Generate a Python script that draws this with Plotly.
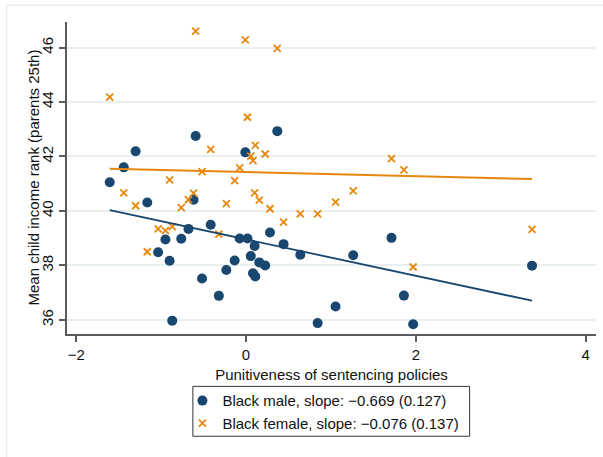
import plotly.graph_objects as go

# Sentencing punitiveness index (shared by both groups), one value per state
punitiveness = [-1.605, -1.44, -1.30, -1.163, -1.035, -0.949, -0.90, -0.869, -0.763,
                -0.678, -0.618, -0.593, -0.518, -0.416, -0.32, -0.232, -0.134, -0.075,
                -0.008, 0.017, 0.056, 0.082, 0.101, 0.109, 0.156, 0.225, 0.282, 0.368,
                0.442, 0.639, 0.843, 1.054, 1.262, 1.713, 1.859, 1.968, 3.368]

# Mean child income rank, parents at 25th percentile
rank_black_male = [41.05, 41.6, 42.19, 40.31, 38.48, 38.95, 38.17, 35.97, 38.98,
                   39.34, 40.41, 42.75, 37.52, 39.49, 36.88, 37.83, 38.18, 38.99,
                   42.15, 38.99, 38.34, 37.71, 38.71, 37.59, 38.11, 38.0, 39.21, 42.93,
                   38.78, 38.39, 35.88, 36.49, 38.37, 39.01, 36.89, 35.84, 37.99]

rank_black_female = [44.18, 40.66, 40.19, 38.50, 39.34, 39.28, 41.14, 39.42, 40.12,
                     40.41, 40.65, 46.6, 41.44, 42.26, 39.15, 40.27, 41.11, 41.58,
                     46.28, 43.44, 42.01, 41.85, 40.66, 42.41, 40.40, 42.09, 40.08, 45.97,
                     39.59, 39.89, 39.89, 40.32, 40.74, 41.92, 41.51, 37.94, 39.32]

# Fitted lines: slope (s.e.) as reported, intercept at x = 0
male_slope, male_se, male_intercept = -0.669, 0.127, 38.956
female_slope, female_se, female_intercept = -0.076, 0.137, 41.428

x_ticks = [-2, 0, 2, 4]
y_ticks = [36, 38, 40, 42, 44, 46]

NAVY = "#1a476f"
ORANGE = "#e8870e"
FONT = "Liberation Sans, Arial, sans-serif"
TEXT = "#111111"

x_lo, x_hi = min(punitiveness), max(punitiveness)


def fit(intercept, slope):
    return [intercept + slope * x_lo, intercept + slope * x_hi]


def fmt(v):
    return f"{v:.3f}".replace("-", "\u2212")


fig = go.Figure()

fig.add_trace(go.Scatter(
    x=punitiveness, y=rank_black_male, mode="markers",
    marker=dict(symbol="circle", size=10, color=NAVY, line=dict(width=0)),
    name=f"Black male, slope: {fmt(male_slope)} ({male_se:.3f})",
))
fig.add_trace(go.Scatter(
    x=punitiveness, y=rank_black_female, mode="markers",
    marker=dict(symbol="x-thin", size=7, color=ORANGE, line=dict(width=1.8, color=ORANGE)),
    name=f"Black female, slope: {fmt(female_slope)} ({female_se:.3f})",
))
fig.add_trace(go.Scatter(
    x=[x_lo, x_hi], y=fit(male_intercept, male_slope), mode="lines",
    line=dict(color=NAVY, width=1.8), showlegend=False, hoverinfo="skip",
))
fig.add_trace(go.Scatter(
    x=[x_lo, x_hi], y=fit(female_intercept, female_slope), mode="lines",
    line=dict(color=ORANGE, width=2.0), showlegend=False, hoverinfo="skip",
))

# pixel geometry of the plotting area
W, H = 603, 457
L, R, T, B = 66.5, 596.0, 21.7, 334.5


def px(p):
    return (p - L) / (R - L)


def py(p):
    return (B - p) / (B - T)


# faint outer graph-region frame (top and left edges)
frame_color = "#e6eef1"
fig.add_shape(type="line", xref="paper", yref="paper",
              x0=px(6), x1=px(W + 2), y0=py(5), y1=py(5),
              line=dict(color=frame_color, width=1.5))
fig.add_shape(type="line", xref="paper", yref="paper",
              x0=px(6), x1=px(6), y0=py(5), y1=py(H + 2),
              line=dict(color=frame_color, width=1.5))

# legend frame
fig.add_shape(type="rect", xref="paper", yref="paper",
              x0=px(192.5), x1=px(469.5), y0=py(387), y1=py(437),
              line=dict(color="#333333", width=1), fillcolor="rgba(0,0,0,0)")

# y-axis title
fig.add_annotation(
    xref="paper", yref="paper", x=px(32), y=py((T + B) / 2),
    text="Mean child income rank (parents 25th)", textangle=-90,
    showarrow=False, xanchor="center", yanchor="middle",
    font=dict(family=FONT, size=15, color=TEXT),
)

axis_common = dict(
    showline=True, linecolor="#5c5c5c", linewidth=1.6,
    ticks="outside", ticklen=6, tickwidth=1.6, tickcolor="#5c5c5c",
    tickfont=dict(family=FONT, size=15, color=TEXT),
    zeroline=False, automargin=False,
)

fig.update_layout(
    width=W, height=H,
    margin=dict(l=L, r=W - R, t=T, b=H - B, pad=0),
    paper_bgcolor="white", plot_bgcolor="white",
    font=dict(family=FONT, size=15, color=TEXT),
    xaxis=dict(
        range=[(L - 245.7) / 85.0, (R - 245.7) / 85.0],
        tickmode="array", tickvals=x_ticks,
        showgrid=False,
        title=dict(text="Punitiveness of sentencing policies",
                   font=dict(family=FONT, size=15, color=TEXT), standoff=8),
        **axis_common,
    ),
    yaxis=dict(
        range=[36 - (B - 320.3) / 27.3, 36 + (320.3 - T) / 27.3],
        tickmode="array", tickvals=y_ticks, tickangle=-90,
        showgrid=True, gridcolor="#e9f0f2", gridwidth=1.5,
        **axis_common,
    ),
    legend=dict(
        x=px(182), xanchor="left", y=py(385), yanchor="top",
        bgcolor="rgba(0,0,0,0)", borderwidth=0,
        font=dict(family=FONT, size=15, color=TEXT),
        itemwidth=30, tracegroupgap=0,
    ),
    showlegend=True,
)

fig.write_html("out.html")
